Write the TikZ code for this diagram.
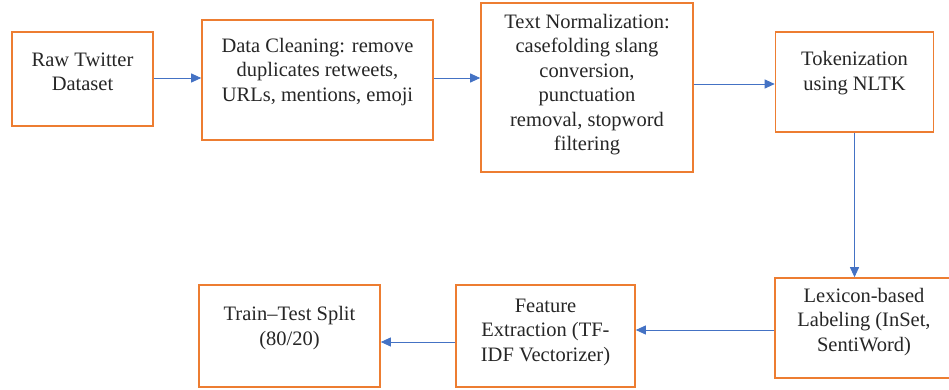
\documentclass[tikz,border=0pt]{standalone}
\usepackage{fontspec}
\setmainfont{Liberation Serif}
\newfontfamily\stagefont[Ligatures=TeX]{Liberation Serif}
\usetikzlibrary{arrows.meta}
\definecolor{boxorange}{HTML}{ED7D31}
\definecolor{arrowblue}{HTML}{4472C4}
\tikzset{
  stagebox/.style={draw=boxorange, line width=1.6pt, fill=white, rectangle, inner sep=0pt},
  stagetext/.style={align=center, font=\stagefont\fontsize{20.5}{24.5}\selectfont, text=black!85, inner sep=0pt},
  flow/.style={draw=arrowblue, line width=0.9pt, -{Triangle[length=10pt,width=9pt]}}
}
\begin{document}
\begin{tikzpicture}[x=1pt,y=-1pt]
\useasboundingbox (0,0) rectangle (949,390);
% boxes
\node[stagebox, minimum width=141pt, minimum height=94pt] (b1) at (82.5,79) {};
\node[stagebox, minimum width=231pt, minimum height=120pt] (b2) at (317.5,80) {};
\node[stagebox, minimum width=212pt, minimum height=169pt] (b3) at (587,87.5) {};
\node[stagebox, minimum width=158pt, minimum height=100pt] (b4) at (854.5,82) {};
\node[stagebox, minimum width=178pt, minimum height=100pt] (b5) at (864,328) {};
\node[stagebox, minimum width=179pt, minimum height=102pt] (b6) at (545.5,336) {};
\node[stagebox, minimum width=181pt, minimum height=102pt] (b7) at (289.5,336) {};
% texts
\node[stagetext] (t1) at ([yshift=7pt]b1.center) {Raw Twitter\\Dataset};
\node[stagetext] (t2) at ([yshift=8pt]b2.center) {Data Cleaning: remove\\duplicates retweets,\\URLs, mentions, emoji};
\node[stagetext] (t3) at ([yshift=3pt]b3.center) {Text Normalization:\\casefolding slang\\conversion,\\punctuation\\removal, stopword\\filtering};
\node[stagetext] (t4) at ([yshift=9pt]b4.center) {Tokenization\\using NLTK};
\node[stagetext] (t5) at ([yshift=6pt]b5.center) {Lexicon-based\\Labeling (InSet,\\SentiWord)};
\node[stagetext] (t6) at ([yshift=4pt]b6.center) {Feature\\Extraction (TF-\\IDF Vectorizer)};
\node[stagetext] (t7) at ([yshift=8pt]b7.center) {Train–Test Split\\(80/20)};
% connectors
\draw[flow] ([yshift=1pt]b1.east) -- ([yshift=1pt]b1.east -| b2.west);
\draw[flow] ([yshift=2pt]b2.east) -- ([yshift=2pt]b2.east -| b3.west);
\draw[flow] ([yshift=-2pt]b4.west -| b3.east) -- ([yshift=-2pt]b4.west);
\draw[flow] (b4.south) -- (b4.south |- b5.north);
\draw[flow] ([yshift=-2pt]b5.west) -- ([yshift=-2pt]b5.west -| b6.east);
\draw[flow] ([yshift=-6pt]b6.west) -- ([yshift=-6pt]b6.west -| b7.east);
\end{tikzpicture}
\end{document}
